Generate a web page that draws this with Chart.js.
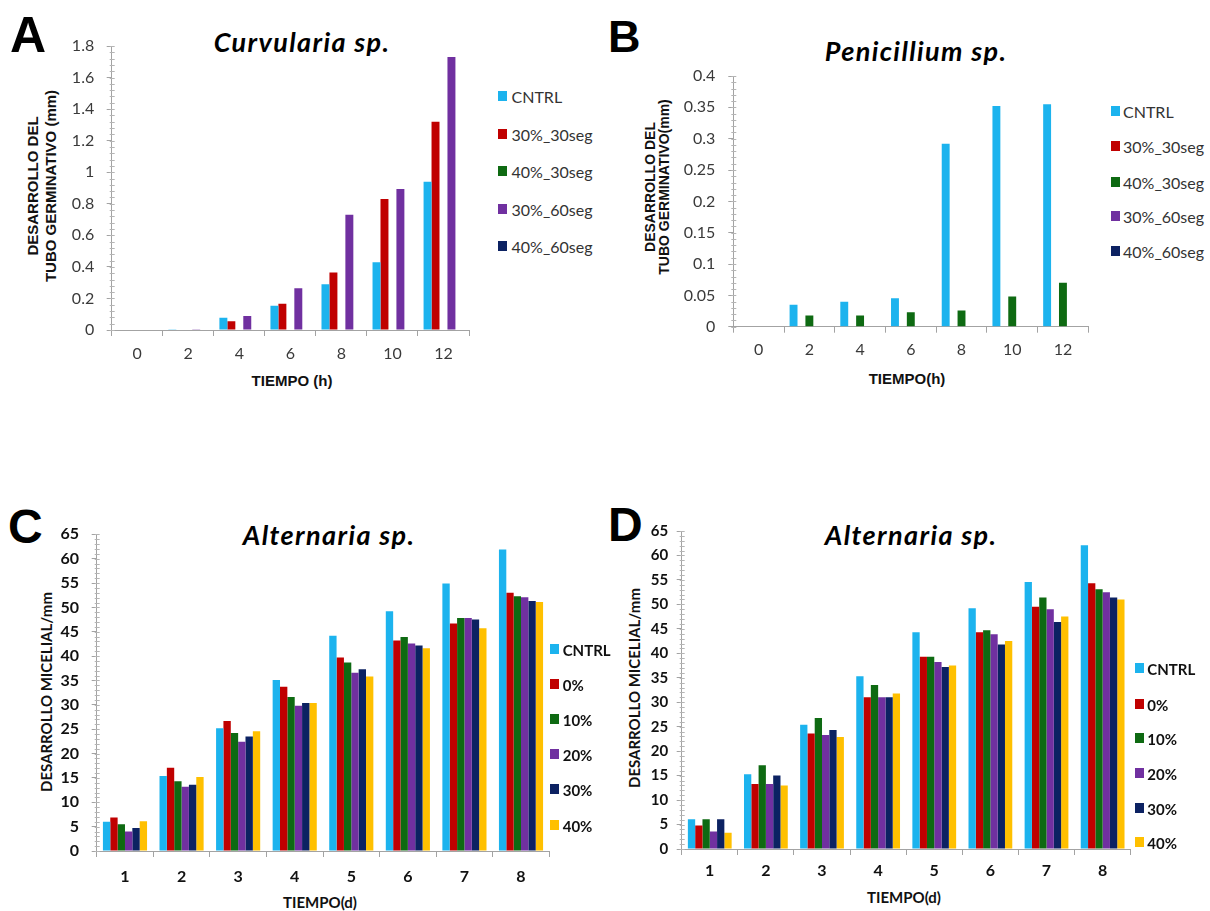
<!DOCTYPE html>
<html>
<head>
<meta charset="utf-8">
<script src="https://cdn.jsdelivr.net/npm/chart.js@4.4.0/dist/chart.umd.min.js"></script>
<style>
  html, body { margin: 0; padding: 0; background: #fff; }
  body { width: 1210px; height: 911px; position: relative; overflow: hidden; font-family: Lato, sans-serif; }
  .abs { position: absolute; white-space: nowrap; }
  .letter { font-family: "Liberation Sans", Arial, sans-serif; font-weight: bold; line-height: 1; color: #000; }
  .title { font-family: Lato, sans-serif; font-weight: bold; font-style: italic; font-size: 27px; letter-spacing: 1.4px; line-height: 1; width: 400px; text-align: center; color: #000; }
  .axt { font-weight: bold; color: #111; transform: translate(-50%, -50%); text-align: center; }
  .axt.arial { font-family: "Liberation Sans", Arial, sans-serif; }
  .axt.rot { transform: translate(-50%, -50%) rotate(-90deg); }
  .legtxt { font-size: 16px; line-height: 20px; color: #333; }
  .legtxt.bold { font-size: 15px; font-weight: bold; color: #111; }
</style>
</head>
<body>
<div class="abs letter" style="left:10px;top:10px;font-size:50px">A</div>
<div class="abs letter" style="left:608px;top:14px;font-size:45px">B</div>
<div class="abs letter" style="left:8px;top:503px;font-size:48px">C</div>
<div class="abs letter" style="left:608px;top:501px;font-size:48px">D</div>

<div class="abs title" style="left:102px;top:28px">Curvularia sp.</div>
<div class="abs title" style="left:716px;top:37px">Penicillium sp.</div>
<div class="abs title" style="left:129px;top:521px">Alternaria sp.</div>
<div class="abs title" style="left:711px;top:521px">Alternaria sp.</div>

<div class="abs axt arial rot" style="left:42px;top:186px;font-size:15px;line-height:18px">DESARROLLO DEL<br>TUBO GERMINATIVO (mm)</div>
<div class="abs axt arial rot" style="left:657px;top:187px;font-size:14px;line-height:14px">DESARROLLO DEL<br>TUBO GERMINATIVO(mm)</div>
<div class="abs axt rot" style="left:46px;top:692px;font-size:15px">DESARROLLO MICELIAL/mm</div>
<div class="abs axt rot" style="left:634px;top:688px;font-size:15px">DESARROLLO MICELIAL/mm</div>

<div class="abs axt arial" style="left:292px;top:380px;font-size:15px">TIEMPO (h)</div>
<div class="abs axt arial" style="left:907px;top:378px;font-size:15px">TIEMPO(h)</div>
<div class="abs axt" style="left:320px;top:902px;font-size:15px">TIEMPO(d)</div>
<div class="abs axt" style="left:904px;top:897px;font-size:15px">TIEMPO(d)</div>

<script>
// categories
const hourLabels = ['0', '2', '4', '6', '8', '10', '12'];
const dayLabels = ['1', '2', '3', '4', '5', '6', '7', '8'];

// series names / colours
const germNames = ['CNTRL', '30%_30seg', '40%_30seg', '30%_60seg', '40%_60seg'];
const germColors = ['#1cb3ee', '#c00000', '#0e6a12', '#7030a0', '#0c2262'];
const micNames = ['CNTRL', '0%', '10%', '20%', '30%', '40%'];
const micColors = ['#1cb3ee', '#c00000', '#0e6a12', '#7030a0', '#0c2262', '#ffc000'];

// A - Curvularia sp. (mm)
const curvCntrl = [0, 0.005, 0.078, 0.154, 0.29, 0.43, 0.94];
const curv30_30 = [0, 0, 0.055, 0.167, 0.364, 0.83, 1.32];
const curv40_30 = [0, 0, 0, 0, 0, 0, 0];
const curv30_60 = [0, 0.005, 0.089, 0.265, 0.73, 0.893, 1.73];
const curv40_60 = [0, 0, 0, 0, 0, 0, 0];

// B - Penicillium sp. (mm)
const peniCntrl = [0, 0.035, 0.040, 0.0455, 0.292, 0.352, 0.355];
const peni30_30 = [0, 0, 0, 0, 0, 0, 0];
const peni40_30 = [0, 0.018, 0.018, 0.023, 0.026, 0.048, 0.070];
const peni30_60 = [0, 0, 0, 0, 0, 0, 0];
const peni40_60 = [0, 0, 0, 0, 0, 0, 0];

// C - Alternaria sp. (mm)
const altC_cntrl = [6.0, 15.4, 25.2, 35.1, 44.2, 49.2, 54.9, 61.9];
const altC_0 = [6.9, 17.1, 26.7, 33.7, 39.7, 43.2, 46.7, 53.0];
const altC_10 = [5.5, 14.3, 24.2, 31.6, 38.7, 43.9, 47.8, 52.3];
const altC_20 = [4.0, 13.2, 22.4, 29.8, 36.6, 42.6, 47.8, 52.1];
const altC_30 = [4.7, 13.6, 23.5, 30.4, 37.3, 42.2, 47.5, 51.3];
const altC_40 = [6.1, 15.2, 24.6, 30.4, 35.8, 41.6, 45.7, 51.1];

// D - Alternaria sp. (mm)
const altD_cntrl = [6.1, 15.3, 25.4, 35.3, 44.3, 49.2, 54.6, 62.1];
const altD_0 = [4.8, 13.3, 23.6, 31.0, 39.3, 44.3, 49.5, 54.3];
const altD_10 = [6.1, 17.1, 26.8, 33.5, 39.3, 44.7, 51.4, 53.1];
const altD_20 = [3.6, 13.3, 23.3, 31.0, 38.2, 43.9, 49.0, 52.5];
const altD_30 = [6.1, 15.0, 24.3, 31.0, 37.2, 41.8, 46.4, 51.4];
const altD_40 = [3.3, 13.0, 22.9, 31.8, 37.5, 42.5, 47.5, 51.0];

// y tick values
const ticksA = [0, 0.2, 0.4, 0.6, 0.8, 1, 1.2, 1.4, 1.6, 1.8];
const ticksB = [0, 0.05, 0.1, 0.15, 0.2, 0.25, 0.3, 0.35, 0.4];
const ticksMic = [0, 5, 10, 15, 20, 25, 30, 35, 40, 45, 50, 55, 60, 65];

const AXIS = '#a3a3a3';

// small minor ticks along the value axis (Excel style)
const minorTicks = {
    id: 'minorTicks',
    afterDatasetsDraw(chart, args, opts) {
        const y = chart.scales.y;
        const x0 = chart.chartArea.left;
        const ctx = chart.ctx;
        const n = Math.round((y.max - y.min) / opts.step);
        ctx.save();
        ctx.strokeStyle = opts.color;
        ctx.lineWidth = 1;
        ctx.beginPath();
        for (let i = 0; i <= n; i++) {
            const py = Math.round(y.getPixelForValue(y.min + i * opts.step)) + 0.5;
            ctx.moveTo(x0 - 2, py);
            ctx.lineTo(x0 + 3, py);
        }
        ctx.stroke();
        ctx.restore();
    }
};

function makeChart(p) {
    const box = document.createElement('div');
    box.className = 'abs';
    box.style.cssText = `left:${p.rect.x}px;top:${p.rect.y}px;width:${p.rect.w}px;height:${p.rect.h}px`;
    const cv = document.createElement('canvas');
    cv.width = p.rect.w;
    cv.height = p.rect.h;
    box.appendChild(cv);
    document.body.appendChild(box);

    const r = p.rect, a = p.area;
    return new Chart(cv.getContext('2d'), {
        type: 'bar',
        data: {
            labels: p.labels,
            datasets: p.series.map((d, i) => ({
                label: p.names[i],
                data: d,
                backgroundColor: p.colors[i],
                borderWidth: 0,
                categoryPercentage: p.catPct,
                barPercentage: 1
            }))
        },
        options: {
            responsive: false,
            devicePixelRatio: 1,
            animation: false,
            layout: { padding: { left: 0, top: a.top - r.y, right: r.x + r.w - a.right, bottom: 0 } },
            plugins: {
                legend: { display: false },
                tooltip: { enabled: false },
                minorTicks: { step: p.minor, color: '#b5b5b5' }
            },
            scales: {
                x: {
                    offset: true,
                    grid: { offset: true, drawOnChartArea: false, tickLength: 6, color: AXIS },
                    border: { color: AXIS },
                    ticks: { font: p.xFont, color: p.tickColor, padding: p.xPad, maxRotation: 0, autoSkip: false },
                    afterFit: s => { s.height = r.y + r.h - a.bottom; }
                },
                y: {
                    min: p.yTicks[0],
                    max: p.yTicks[p.yTicks.length - 1],
                    afterBuildTicks: s => { s.ticks = p.yTicks.map(v => ({ value: v })); },
                    grid: { drawOnChartArea: false, tickLength: 5, color: AXIS },
                    border: { color: AXIS },
                    ticks: { font: p.yFont, color: p.tickColor, padding: p.yPad, autoSkip: false, callback: v => String(v) },
                    afterFit: s => { s.width = a.left - r.x; }
                }
            }
        },
        plugins: [minorTicks]
    });
}

function addLegend(boxX, textX, centers, names, colors, bold) {
    names.forEach((name, i) => {
        const sq = document.createElement('div');
        sq.className = 'abs';
        sq.style.cssText = `left:${boxX}px;top:${centers[i] - 6}px;width:9px;height:10px;background:${colors[i]}`;
        document.body.appendChild(sq);
        const t = document.createElement('div');
        t.className = 'abs legtxt' + (bold ? ' bold' : '');
        t.style.left = textX + 'px';
        t.style.top = (centers[i] - 10) + 'px';
        t.textContent = name;
        document.body.appendChild(t);
    });
}

const thinFont = { family: 'Lato', size: 16 };
const boldFont = { family: 'Lato', size: 16, weight: 'bold' };

makeChart({
    rect: { x: 55, y: 20, w: 425, h: 350 },
    area: { left: 111.7, top: 46, right: 469, bottom: 330 },
    labels: hourLabels, names: germNames, colors: germColors,
    series: [curvCntrl, curv30_30, curv40_30, curv30_60, curv40_60],
    yTicks: ticksA, minor: 0.04, catPct: 0.78,
    xFont: thinFont, yFont: thinFont, tickColor: '#3a3a3a', xPad: 8.4, yPad: 12.5
});

makeChart({
    rect: { x: 670, y: 50, w: 430, h: 320 },
    area: { left: 733.3, top: 76, right: 1088.3, bottom: 326.7 },
    labels: hourLabels, names: germNames, colors: germColors,
    series: [peniCntrl, peni30_30, peni40_30, peni30_60, peni40_60],
    yTicks: ticksB, minor: 0.01, catPct: 0.78,
    xFont: thinFont, yFont: thinFont, tickColor: '#3a3a3a', xPad: 7.7, yPad: 13
});

makeChart({
    rect: { x: 50, y: 510, w: 510, h: 385 },
    area: { left: 96.7, top: 534.3, right: 549.3, bottom: 851 },
    labels: dayLabels, names: micNames, colors: micColors,
    series: [altC_cntrl, altC_0, altC_10, altC_20, altC_30, altC_40],
    yTicks: ticksMic, minor: 1, catPct: 0.78,
    xFont: boldFont, yFont: boldFont, tickColor: '#111', xPad: 10.1, yPad: 12.7
});

makeChart({
    rect: { x: 630, y: 505, w: 510, h: 385 },
    area: { left: 681.7, top: 531, right: 1130.7, bottom: 849 },
    labels: dayLabels, names: micNames, colors: micColors,
    series: [altD_cntrl, altD_0, altD_10, altD_20, altD_30, altD_40],
    yTicks: ticksMic, minor: 1, catPct: 0.78,
    xFont: boldFont, yFont: { family: 'Lato', size: 15, weight: 'bold' }, tickColor: '#111', xPad: 6.1, yPad: 8.5
});

addLegend(498, 511.5, [96.7, 135, 171.7, 210, 246.7], germNames, germColors, false);
addLegend(1111, 1123, [111.7, 146.7, 183.3, 216.7, 251.7], germNames, germColors, false);
addLegend(550, 562.7, [650, 685, 720, 755, 790, 826], micNames, micColors, true);
addLegend(1135, 1147.3, [669.3, 705, 739.3, 774, 809.3, 843.3], micNames, micColors, true);
</script>
</body>
</html>
